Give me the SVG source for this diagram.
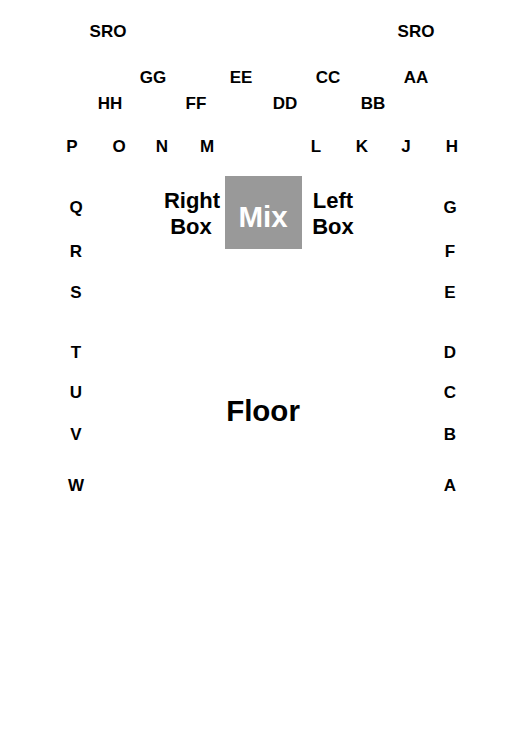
<svg xmlns="http://www.w3.org/2000/svg" width="525" height="746" viewBox="0 0 525 746">
<style>
text{font-family:"Liberation Sans",Arial,sans-serif;font-weight:bold;text-anchor:middle;fill:#000}
.s{font-size:17px}
.b{font-size:22px}
.big{font-size:29.5px}
.w{fill:#fff}
</style>
<rect width="525" height="746" fill="#fff"/>
<g id="sro"><text class="s" x="108" y="37">SRO</text><text class="s" x="416" y="37">SRO</text></g>
<g id="upper1"><text class="s" x="153" y="83">GG</text><text class="s" x="241" y="83">EE</text><text class="s" x="328" y="83">CC</text><text class="s" x="416" y="83">AA</text></g>
<g id="upper2"><text class="s" x="110" y="109">HH</text><text class="s" x="196" y="109">FF</text><text class="s" x="285" y="109">DD</text><text class="s" x="373" y="109">BB</text></g>
<g id="front"><text class="s" x="72" y="152">P</text><text class="s" x="119" y="152">O</text><text class="s" x="162" y="152">N</text><text class="s" x="207" y="152">M</text><text class="s" x="316" y="152">L</text><text class="s" x="362" y="152">K</text><text class="s" x="406" y="152">J</text><text class="s" x="452" y="152">H</text></g>
<g id="leftside"><text class="s" x="76" y="213">Q</text><text class="s" x="76" y="257">R</text><text class="s" x="76" y="298">S</text><text class="s" x="76" y="358">T</text><text class="s" x="76" y="398">U</text><text class="s" x="76" y="440">V</text><text class="s" x="76" y="491">W</text></g>
<g id="rightside"><text class="s" x="450" y="213">G</text><text class="s" x="450" y="257">F</text><text class="s" x="450" y="298">E</text><text class="s" x="450" y="358">D</text><text class="s" x="450" y="398">C</text><text class="s" x="450" y="440">B</text><text class="s" x="450" y="491">A</text></g>
<g id="mix"><rect x="225" y="176" width="77" height="73" fill="#999"/><text class="big w" x="263" y="227">Mix</text></g>
<g id="rightbox"><text class="b" x="192" y="208">Right</text><text class="b" x="191" y="234">Box</text></g>
<g id="leftbox"><text class="b" x="333" y="208">Left</text><text class="b" x="333" y="234">Box</text></g>
<g id="floor"><text class="big" x="263" y="421">Floor</text></g>
<g id="stage"><text class="big w" x="265" y="662">Stage</text></g>
</svg>
